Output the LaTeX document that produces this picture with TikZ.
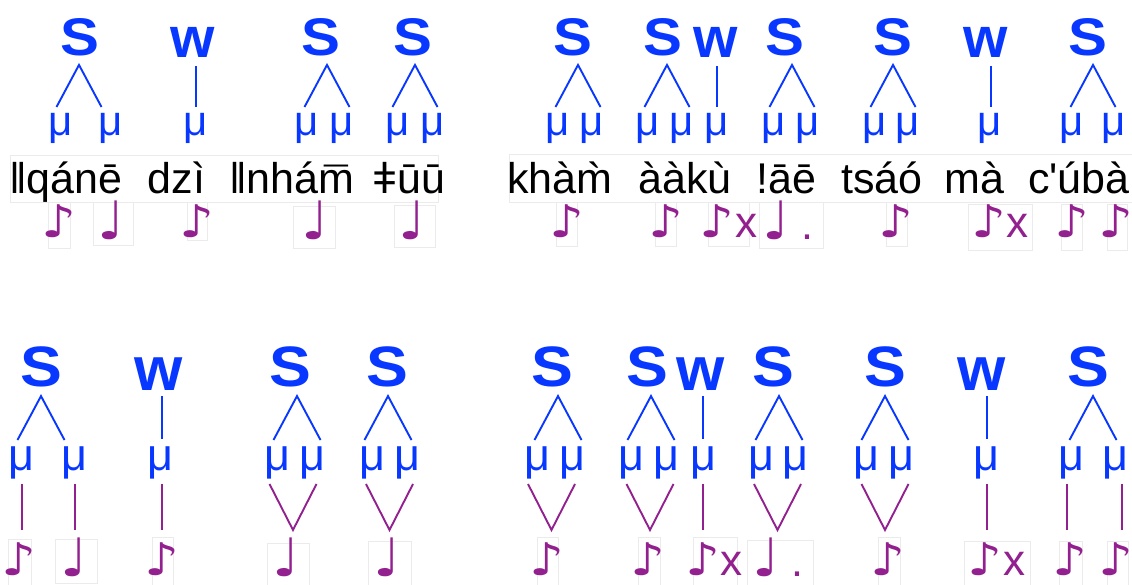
\documentclass[tikz,border=0pt]{standalone}
\usepackage{graphicx}
\usepackage{fontspec}
\setmainfont{Liberation Sans}
\newfontfamily\plainfont{Liberation Sans}
\newfontfamily\notefont{DejaVu Sans}
\definecolor{sylblue}{RGB}{8,56,255}
\definecolor{tonepurple}{RGB}{146,32,142}
% note glyphs
\newcommand\eighthnote{\scalebox{1.22}[1]{\notefont\fontsize{45}{45}\selectfont ♪}}
\newcommand\quarternote{\scalebox{1.1}[1]{\notefont\fontsize{53}{53}\selectfont ♩}}
\newcommand\extra{{\fontsize{44}{44}\selectfont x}}
% m with an accent centred above it
\newcommand\mgrave{{\plainfont\ooalign{m\cr\hidewidth`\hidewidth\cr}}}
\newcommand\mmacron{{\plainfont\ooalign{m\cr\hidewidth\raisebox{-0.075em}{¯}\hidewidth\cr}}}
\newcommand\wideS{\scalebox{1.1}[1]{S}}
\tikzset{
  glyph/.style={inner sep=0pt, anchor=base},
  strongT/.style={glyph, text=sylblue, font=\fontsize{53}{53}\selectfont\bfseries, outer ysep=8.4pt},
  weakT/.style={glyph, text=sylblue, font=\fontsize{57}{57}\selectfont\bfseries, outer ysep=8pt},
  moraT/.style={glyph, text=sylblue, font=\fontsize{42}{42}\selectfont},
  strongB/.style={glyph, text=sylblue, font=\fontsize{57}{57}\selectfont\bfseries, outer ysep=9pt},
  weakB/.style={glyph, text=sylblue, font=\fontsize{62}{62}\selectfont\bfseries, outer ysep=6pt},
  moraB/.style={glyph, text=sylblue, font=\fontsize{45}{45}\selectfont},
  word/.style={inner sep=0pt, anchor=base west, font=\fontsize{43}{43}\selectfont},
  tone/.style={glyph, text depth=0pt, text=tonepurple, font=\fontsize{43}{43}\selectfont},
  tree/.style={draw=sylblue, line width=1.9pt},
  link/.style={draw=tonepurple, line width=1.9pt},
  ghost/.style={draw=black!8, line width=0.7pt},
}
\begin{document}
\begin{tikzpicture}[x=1pt,y=-1pt]
\useasboundingbox (0,0) rectangle (1132,585);

% faint frames round the words and the note glyphs
\foreach \xa/\ya/\xb/\yb in {
  10/155/438/202, 509/154/1132/202,
  48/202/70/248, 93/202/133/245, 187/202/207/240, 293/206/335/248, 394/205/435/247,
  556/202/577/246, 655/202/676/246, 708/202/749/246, 759/202/823/248, 886/202/907/246,
  968/204/1032/250, 1061/204/1082/250, 1107/204/1127/250,
  8/539/31/585, 55/539/97/583, 152/537/173/585, 267/543/309/585, 368/541/411/585,
  537/537/558/585, 638/537/660/585, 693/537/737/585, 747/540/813/585, 878/537/900/585,
  964/541/1030/585, 1059/541/1082/585, 1107/541/1128/585}
  \draw[ghost] (\xa,\ya) rectangle (\xb,\yb);

% ---------- upper line: strong syllables with two morae ----------
\foreach \n/\sx/\ax/\ml/\mr in {t1/80/79/61/111, t3/320.7/327/307/342, t4/412.5/415/398/433,
    t5/572.5/578/558/592, t6/663/667/648/682, t8/785/792/774/808, t9/893/893/875/908,
    t11/1088/1093/1072/1114}{
  \node[strongT] (\n) at (\sx,56) {\wideS};
  \path (\n.south) ++(\ax-\sx,0) coordinate (\n-a);
  \coordinate (\n-l) at (\ax-22.5,107);
  \coordinate (\n-r) at (\ax+22.5,107);
  \draw[tree] (\n-l) -- (\n-a) -- (\n-r);
  \node[moraT] (\n-m1) at (\ml,136) {μ};
  \node[moraT] (\n-m2) at (\mr,136) {μ};
}
% weak syllables with one mora
\foreach \n/\wx/\lx/\mx in {t2/193/196/196, t7/716/717/717, t10/986/991/990}{
  \node[weakT] (\n) at (\wx,58) {w};
  \path (\n.south) ++(\lx-\wx,0) coordinate (\n-a);
  \coordinate (\n-l) at (\lx,107);
  \draw[tree] (\n-a) -- (\n-l);
  \node[moraT] (\n-m1) at (\mx,136) {μ};
}

% words
\node[word] (w1) at (9,194) {ǁqánē};
\node[word] (w2) at (147.5,194) {dzì};
\node[word] (w3) at (229,194) {ǁnhá\mmacron};
\node[word] (w4) at (372,194) {ǂūū};
\node[word] (w5) at (507,194) {khà\mgrave};
\node[word] (w6) at (638,194) {ààkù};
\node[word] (w7) at (756,194) {!āē};
\node[word] (w8) at (841,194) {tsáó};
\node[word] (w9) at (944,194) {mà};
\node[word] (w10) at (1028,194) {{\plainfont c'úbà}};

% upper tones
\foreach \n/\x in {tn1/59, tn3/197, tn6/567, tn7/666, tn10/896, tn12/1072, tn13/1116}
  \node[tone] (\n) at (\x,238) {\eighthnote};
\foreach \n/\x in {tn2/111.5, tn4/315, tn5/412.5}
  \node[tone] (\n) at (\x,240) {\quarternote};
\node[tone] (tn8) at (728.5,238) {\eighthnote\extra};
\node[tone] (tn11) at (1000,238) {\eighthnote\extra};
\node[tone] (tn9) at (788,240) {\quarternote\hspace{11pt}.};

% ---------- lower line ----------
\foreach \n/\sx/\ax/\ml/\mr in {b1/41/41/21/74, b3/290/297/277/312, b4/387/388/372/407,
    b5/552/558/537/572, b6/647/651/631/666, b8/773/779/761/795, b9/885/885/866/901,
    b11/1088/1093/1071/1115}{
  \node[strongB] (\n) at (\sx,386.5) {\wideS};
  \path (\n.south) ++(\ax-\sx,0) coordinate (\n-a);
  \coordinate (\n-l) at (\ax-23.5,440);
  \coordinate (\n-r) at (\ax+23.5,440);
  \draw[tree] (\n-l) -- (\n-a) -- (\n-r);
  \node[moraB] (\n-m1) at (\ml,470) {μ};
  \node[moraB] (\n-m2) at (\mr,470) {μ};
}
\foreach \n/\wx/\lx/\mx in {b2/159/162/160, b7/701/703/703, b10/982/987/986}{
  \node[weakB] (\n) at (\wx,390) {w};
  \path (\n.south) ++(\lx-\wx,0) coordinate (\n-a);
  \coordinate (\n-l) at (\lx,439);
  \draw[tree] (\n-a) -- (\n-l);
  \node[moraB] (\n-m1) at (\mx,470) {μ};
}

% association lines: two morae onto one tone
\foreach \n/\vc in {b3/293, b4/389.5, b5/551.5, b6/650, b8/777.5, b9/885}{
  \coordinate (\n-vl) at (\vc-23.5,484);
  \coordinate (\n-vr) at (\vc+23.5,484);
  \coordinate (\n-vb) at (\vc,530);
  \draw[link] (\n-vl) -- (\n-vb) -- (\n-vr);
}
% one mora onto one tone
\foreach \n/\x in {b1a/22, b1b/75, b2/162, b7/703, b10/987, b11a/1067, b11b/1122}{
  \coordinate (\n-lt) at (\x,484);
  \coordinate (\n-lb) at (\x,530);
  \draw[link] (\n-lt) -- (\n-lb);
}

% lower tones
\foreach \n/\x in {bn1/19.5, bn3/162, bn6/547, bn7/648.5, bn10/888.5, bn12/1070.5, bn13/1116.5}
  \node[tone] (\n) at (\x,575) {\eighthnote};
\foreach \n/\x in {bn2/74.5, bn4/286, bn5/387.5}
  \node[tone] (\n) at (\x,576) {\quarternote};
\node[tone] (bn8) at (714,575) {\eighthnote\extra};
\node[tone] (bn11) at (996.5,575) {\eighthnote\extra};
\node[tone] (bn9) at (778,576) {\quarternote\hspace{11pt}.};
\end{tikzpicture}
\end{document}
